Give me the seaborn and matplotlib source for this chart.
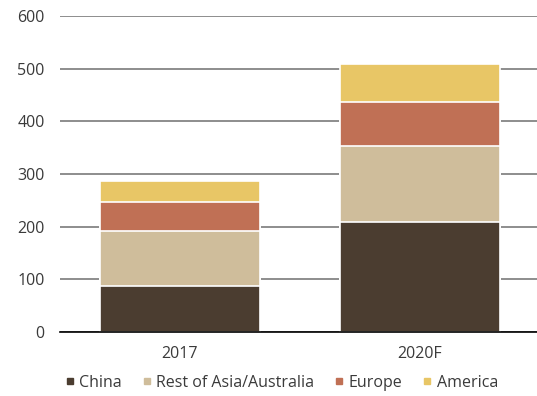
import matplotlib
matplotlib.use("Agg")
import matplotlib.pyplot as plt
from matplotlib.lines import Line2D
import seaborn as sns
import pandas as pd
import numpy as np

categories = ["2017", "2020F"]
series = ["China", "Rest of Asia/Australia", "Europe", "America"]
china = [87, 209]
rest_asia = [104, 144]
europe = [55, 84]
america = [41, 71]
colors = ["#4B3D30", "#CFBD9B", "#C07055", "#E8C666"]
yticks = [0, 100, 200, 300, 400, 500, 600]

sns.set_theme(style="white")
plt.rcParams["font.family"] = ["Open Sans", "DejaVu Sans"]

values = [china, rest_asia, europe, america]
cum = np.cumsum(np.array(values), axis=0)

fig = plt.figure(figsize=(5.37, 3.96), dpi=100)
ax = fig.add_axes([60 / 537, 1 - 332 / 396, 1 - 60 / 537, (332 - 16) / 396])

for i in range(len(series) - 1, -1, -1):
    df = pd.DataFrame({"cat": categories, "val": cum[i]})
    sns.barplot(data=df, x="cat", y="val", color=colors[i], width=0.667,
                edgecolor="white", linewidth=1.2, saturation=1, ax=ax, zorder=3)

ax.set_ylim(0, 600)
ax.set_xlim(-0.5, 1.4875)
ax.set_yticks(yticks)
ax.set_yticklabels([str(t) for t in yticks])
ax.yaxis.grid(True, color="#7a7a7a", linewidth=1.2, zorder=0)
ax.set_axisbelow(True)
for s in ["top", "right", "left"]:
    ax.spines[s].set_visible(False)
ax.spines["bottom"].set_color("black")
ax.spines["bottom"].set_linewidth(1.2)
ax.spines["bottom"].set_zorder(4)
ax.set_xlabel("")
ax.set_ylabel("")
ax.tick_params(axis="both", length=0, labelsize=11.5, colors="#3a3a3a")
ax.tick_params(axis="y", pad=11)
ax.tick_params(axis="x", pad=10)

handles = [Line2D([0], [0], marker="s", linestyle="none", markersize=5,
                  markerfacecolor=c, markeredgecolor=c) for c in colors]
fig.legend(handles, series, loc="center", bbox_to_anchor=(282 / 537, 1 - 383 / 396),
           ncol=4, frameon=False, fontsize=11.5, handlelength=0.5,
           handletextpad=0.35, columnspacing=1.3, labelcolor="#3a3a3a",
           borderaxespad=0, borderpad=0)

fig.savefig("out.png", dpi=100)
